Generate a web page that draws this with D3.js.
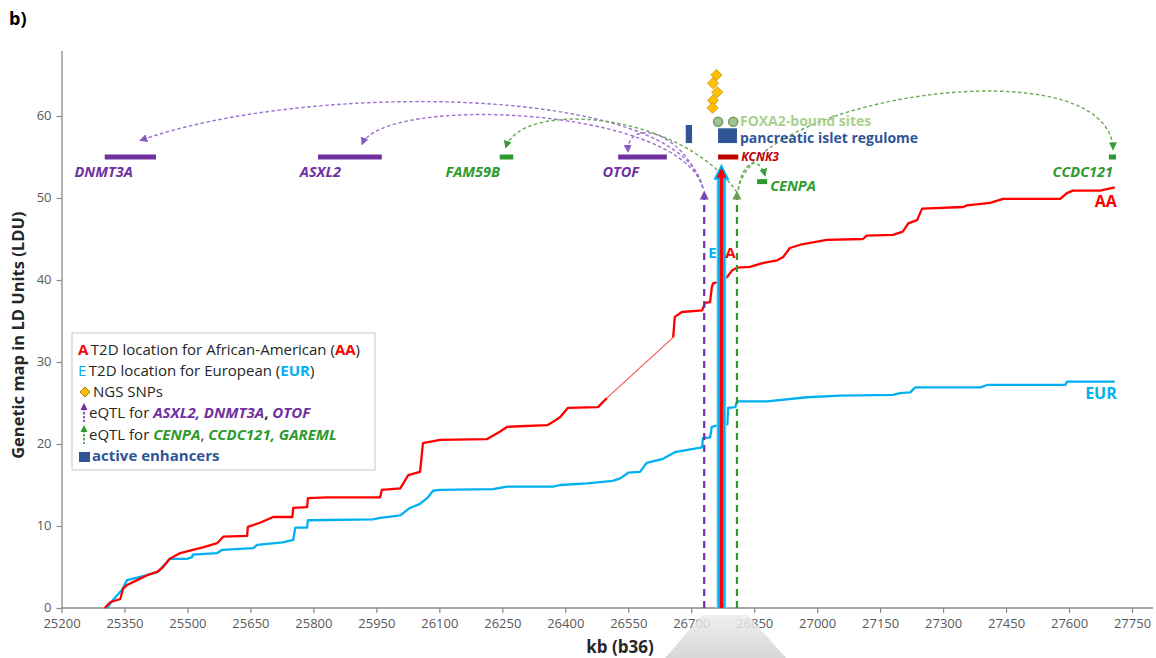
<!DOCTYPE html>
<html><head><meta charset="utf-8">
<script src="https://cdn.jsdelivr.net/npm/d3@7"></script>
<style>
html,body{margin:0;padding:0;background:#fff;}
svg{display:block;font-family:"Open Sans", Lato, sans-serif;}
</style></head><body>
<svg id="chart" width="1156" height="658"></svg>
<script>
// Cumulative LD map (LDU) along chromosome 2p, positions in kb (build 36)
const aaKb  = [25303,25316,25340,25347,25356,25380,25404,25428,25442,25458,25483,25513,25537,25571,25585,25642,25644,25673,25704,25750,25752,25785,25787,25833,25959,25963,26007,26026,26054,26061,26102,26214,26244,26262,26357,26371,26388,26406,26478,26499,26657,26661,26678,26726,26733,26745,26749,26752,26768,26786,26798,26809,26840,26872,26905,26919,26935,26960,27023,27109,27118,27181,27204,27217,27238,27250,27348,27357,27412,27443,27579,27595,27609,27674,27709];
const aaLdu = [0,0.7,1.1,2.4,2.8,3.4,4.0,4.4,5.0,6.0,6.7,7.1,7.4,7.9,8.7,8.8,9.9,10.4,11.1,11.1,12.2,12.3,13.4,13.5,13.5,14.4,14.6,16.2,16.6,20.1,20.5,20.6,21.5,22.1,22.3,22.7,23.3,24.4,24.5,25.6,33.0,35.5,36.1,36.3,37.2,37.3,39.1,39.6,39.8,40.4,41.2,41.5,41.6,42.1,42.4,42.8,43.9,44.3,44.9,45.0,45.4,45.5,45.9,46.9,47.3,48.7,48.9,49.1,49.4,49.9,49.9,50.6,50.9,50.9,51.3];
const eurKb  = [25308,25323,25344,25356,25380,25404,25430,25458,25499,25511,25513,25571,25583,25657,25666,25727,25752,25757,25785,25787,25942,25959,26007,26030,26054,26073,26085,26102,26228,26262,26371,26388,26452,26513,26531,26550,26578,26594,26633,26661,26726,26728,26745,26749,26764,26786,26788,26805,26809,26881,26976,27055,27181,27197,27222,27233,27389,27405,27591,27595,27709];
const eurLdu = [0,1.0,2.2,3.4,3.7,4.0,4.4,6.0,6.0,6.2,6.5,6.7,7.1,7.3,7.7,8.0,8.3,9.8,9.8,10.7,10.8,11.0,11.3,12.2,12.7,13.5,14.3,14.4,14.5,14.8,14.8,15.0,15.2,15.5,15.8,16.5,16.6,17.7,18.2,19.0,19.6,20.7,20.8,22.1,22.3,22.4,24.4,24.5,25.2,25.2,25.7,25.9,26.0,26.2,26.3,26.9,26.9,27.2,27.2,27.6,27.6];

const xTicks = [25200,25350,25500,25650,25800,25950,26100,26250,26400,26550,26700,26850,27000,27150,27300,27450,27600,27750];
const yTicks = [0,10,20,30,40,50,60];

// Genes in the region
const geneNames = ["DNMT3A","ASXL2","OTOF","FAM59B","KCNK3","CENPA","CCDC121"];
const geneStart = [25303,25811,26526,26244,26764,26857,27695];
const geneEnd   = [25425,25963,26642,26276,26812,26881,27712];
const geneLdu   = [55.0,55.0,55.0,55.0,55.0,52.0,55.0];
const geneGroup = ["purple","purple","purple","green","red","green","green"];

// NGS SNPs near the association peak
const snpKb  = [26760,26752,26762,26752,26751];
const snpLdu = [65.0,64.0,62.9,61.9,61.0];

// T2D association location (AA and EUR coincide)
const t2dKb = 26772, t2dTop = 53.7;

// eQTL lines and arcs to the target genes (start, control 1, control 2, end)
const eqtlKb = {purple: 26731, green: 26809};
const eqtlTop = 50.9;
const purpleArcs = [
  [[26728,51.2],[26673,64.1],[25768,64.1],[25387,57.0]],
  [[26728,51.2],[26673,61.3],[25959,62.6],[25916,56.5]],
  [[26728,51.2],[26673,58.9],[26543,59.5],[26550,55.6]]
];
const greenArcs = [
  [[26809,50.7],[26673,60.7],[26292,62.0],[26258,56.1]],
  [[26812,51.0],[26821,54.6],[26863,55.2],[26876,52.7]],
  [[26812,51.0],[26852,62.6],[27698,68.7],[27705,55.9]]
];

// Pancreatic islet regulome (active enhancers) and FOXA2-bound sites
const enhStart = [26687,26764], enhEnd = [26702,26809];
const enhLow = [56.7,56.7], enhHigh = [58.9,58.5];
const foxKb = [26764,26800], foxLdu = [59.3,59.3];

const C = {aa:"#ff0000", eur:"#00b0f0", purple:"#7030a0", purpleArc:"#9a6fcc",
           green:"#2e9a2e", greenArc:"#6aaa55", red:"#c00000", blue:"#2f5597",
           fox:"#a9d18e", snp:"#ffc000", axis:"#888888", tick:"#595959", text:"#262626"};

const svg = d3.select("#chart");
const x = d3.scaleLinear().domain([25200, 27750]).range([61.5, 1132]);
const y = d3.scaleLinear().domain([0, 68]).range([608, 50.4]);

// panel letter
svg.append("text").attr("x", 9).attr("y", 25).attr("font-size", 18).attr("font-weight", "bold")
  .attr("fill", "#000").text("b)");

// axes
const xAxis = svg.append("g").attr("transform", `translate(0,${y(0)})`)
  .call(d3.axisBottom(x).tickValues(xTicks).tickFormat(d3.format("d")).tickSize(5).tickSizeOuter(0).tickPadding(6));
const yAxis = svg.append("g").attr("transform", `translate(${x(25200)},0)`)
  .call(d3.axisLeft(y).tickValues(yTicks).tickSize(5).tickSizeOuter(0).tickPadding(5));
[xAxis, yAxis].forEach(g => {
  g.select(".domain").attr("stroke", C.axis).attr("stroke-width", 1.3);
  g.selectAll(".tick line").attr("stroke", C.axis).attr("stroke-width", 1.2);
  g.selectAll(".tick text").attr("fill", C.tick).attr("font-size", 13)
    .attr("font-family", "'Open Sans', sans-serif");
});
xAxis.select(".domain").attr("d", `M${x(25200)},0H${x(27750) + 21}`);
yAxis.selectAll(".tick text").attr("dy", "0.28em");

svg.append("text").attr("transform", `translate(24,${(y(0) + y(68)) / 2 + 6}) rotate(-90)`)
  .attr("text-anchor", "middle").attr("font-size", 16.5).attr("font-weight", "bold").attr("fill", C.text)
  .text("Genetic map in LD Units (LDU)");
svg.append("text").attr("x", 620).attr("y", 653).attr("text-anchor", "middle")
  .attr("font-size", 17).attr("font-weight", "bold").attr("fill", C.text).text("kb (b36)");

// LD map curves; sparse, steep stretches (big gap between markers) drawn thin
function drawMap(kb, ldu, color) {
  const pts = kb.map((k, i) => [x(k), y(ldu[i])]);
  let seg = [pts[0]];
  const segs = [];
  for (let i = 1; i < pts.length; i++) {
    if (kb[i] - kb[i - 1] > 100 && ldu[i] - ldu[i - 1] > 2) {
      segs.push({pts: seg, thin: false});
      segs.push({pts: [pts[i - 1], pts[i]], thin: true});
      seg = [pts[i]];
    } else seg.push(pts[i]);
  }
  segs.push({pts: seg, thin: false});
  const line = d3.line();
  segs.forEach(s => {
    svg.append("path").attr("d", line(s.pts)).attr("fill", "none").attr("stroke", color)
      .attr("stroke-width", s.thin ? 1.1 : 2.3).attr("stroke-opacity", s.thin ? 0.7 : 1)
      .attr("stroke-linejoin", "round");
  });
}
drawMap(eurKb, eurLdu, C.eur);
drawMap(aaKb, aaLdu, C.aa);

svg.append("text").attr("x", x(aaKb[aaKb.length - 1]) + 2).attr("y", y(aaLdu[aaLdu.length - 1]) + 20)
  .attr("text-anchor", "end").attr("font-size", 16).attr("font-weight", "bold").attr("fill", C.aa).text("AA");
svg.append("text").attr("x", x(eurKb[eurKb.length - 1]) + 2).attr("y", y(eurLdu[eurLdu.length - 1]) + 17)
  .attr("text-anchor", "end").attr("font-size", 16).attr("font-weight", "bold").attr("fill", C.eur).text("EUR");

// eQTL vertical dashed lines with arrowheads
function vArrow(kb, top, color, headColor) {
  const px = x(kb);
  svg.append("line").attr("x1", px).attr("x2", px).attr("y1", y(0)).attr("y2", y(top) + 7)
    .attr("stroke", color).attr("stroke-width", 2.2).attr("stroke-dasharray", "7,5");
  svg.append("path").attr("d", `M${px},${y(top)} L${px - 4.5},${y(top) + 9} L${px + 4.5},${y(top) + 9} Z`)
    .attr("fill", headColor);
}
vArrow(eqtlKb.purple, eqtlTop, C.purple, "#7a48b0");
vArrow(eqtlKb.green, eqtlTop, C.green, "#6f9a55");

// arcs from the eQTL to their genes
const defs = svg.append("defs");
function marker(id, color) {
  defs.append("marker").attr("id", id).attr("viewBox", "0 0 10 10").attr("refX", 9).attr("refY", 5)
    .attr("markerWidth", 8).attr("markerHeight", 8).attr("markerUnits", "userSpaceOnUse").attr("orient", "auto")
    .append("path").attr("d", "M0,0 L10,5 L0,10 Z").attr("fill", color);
}
marker("mP", "#8a58c4");
marker("mG", "#3a9a3a");
function arc(p, color, mid) {
  const q = p.map(d => [x(d[0]), y(d[1])]);
  svg.append("path")
    .attr("d", `M${q[0][0]},${q[0][1]} C${q[1][0]},${q[1][1]} ${q[2][0]},${q[2][1]} ${q[3][0]},${q[3][1]}`)
    .attr("fill", "none").attr("stroke", color).attr("stroke-width", 1.4)
    .attr("stroke-dasharray", "3.5,2.5").attr("marker-end", `url(#${mid})`);
}
purpleArcs.forEach(p => arc(p, C.purpleArc, "mP"));
greenArcs.forEach(p => arc(p, C.greenArc, "mG"));

// T2D location arrow (EUR outer, AA inner)
(function () {
  const px = x(t2dKb), top = y(t2dTop);
  svg.append("line").attr("x1", px).attr("x2", px).attr("y1", y(0)).attr("y2", top + 10)
    .attr("stroke", "#9fdcf6").attr("stroke-width", 10);
  svg.append("line").attr("x1", px).attr("x2", px).attr("y1", y(0)).attr("y2", top + 10)
    .attr("stroke", C.eur).attr("stroke-width", 8);
  svg.append("path").attr("d", `M${px},${top - 4} L${px - 8},${top + 12} L${px + 8},${top + 12} Z`).attr("fill", C.eur);
  svg.append("line").attr("x1", px).attr("x2", px).attr("y1", y(0)).attr("y2", top + 8)
    .attr("stroke", C.aa).attr("stroke-width", 3);
  svg.append("path").attr("d", `M${px},${top} L${px - 5},${top + 10} L${px + 5},${top + 10} Z`).attr("fill", C.aa);
  svg.append("text").attr("x", px - 9).attr("y", y(43.4) + 6).attr("text-anchor", "middle")
    .attr("font-size", 15).attr("font-weight", "bold").attr("fill", C.eur).text("E");
  svg.append("text").attr("x", px + 9).attr("y", y(43.4) + 6).attr("text-anchor", "middle")
    .attr("font-size", 15).attr("font-weight", "bold").attr("fill", C.aa).text("A");
})();

// genes: bar plus italic name (below the bar, right-aligned near its centre, or to its right)
const gColor = {purple: C.purple, green: C.green, red: C.red};
const labelLayout = {DNMT3A: ["below", 2.5], ASXL2: ["below", -9], OTOF: ["below", -3.5],
                     FAM59B: ["below", -6.5], CCDC121: ["below", 0.5], KCNK3: ["right", 0], CENPA: ["right", 0]};
geneNames.forEach((g, i) => {
  const x0 = x(geneStart[i]), x1 = x(geneEnd[i]), py = y(geneLdu[i]);
  const col = gColor[geneGroup[i]];
  svg.append("rect").attr("x", x0).attr("y", py - 2.5).attr("width", x1 - x0).attr("height", 5).attr("fill", col);
  const t = svg.append("text").attr("font-weight", "bold").attr("font-style", "italic").attr("fill", col).text(g);
  const [side, dx] = labelLayout[g];
  if (side === "below") {
    t.attr("x", (x0 + x1) / 2 + dx).attr("y", py + 20).attr("text-anchor", "end").attr("font-size", 14.5);
  } else if (geneGroup[i] === "red") {
    t.attr("x", x1 + 3).attr("y", py + 4).attr("font-size", 12);
  } else {
    t.attr("x", x1 + 3).attr("y", py + 9).attr("font-size", 14.5);
  }
});

// regulome: FOXA2 sites and enhancers
foxKb.forEach((k, i) => {
  svg.append("circle").attr("cx", x(k)).attr("cy", y(foxLdu[i])).attr("r", 4.5)
    .attr("fill", "#a3c293").attr("stroke", "#6f9f5a").attr("stroke-width", 1.5);
});
enhStart.forEach((s, i) => {
  svg.append("rect").attr("x", x(s)).attr("y", y(enhHigh[i])).attr("width", x(enhEnd[i]) - x(s))
    .attr("height", y(enhLow[i]) - y(enhHigh[i])).attr("fill", C.blue);
});
svg.append("text").attr("x", x(enhEnd[1]) + 3).attr("y", y(foxLdu[0]) + 4).attr("font-size", 14)
  .attr("font-weight", "bold").attr("fill", C.fox).text("FOXA2-bound sites");
svg.append("text").attr("x", x(enhEnd[1]) + 3).attr("y", y(enhLow[1]) - 0.5).attr("font-size", 14)
  .attr("font-weight", "bold").attr("fill", C.blue).text("pancreatic islet regulome");

// NGS SNPs
snpKb.forEach((k, i) => {
  svg.append("path").attr("transform", `translate(${x(k)},${y(snpLdu[i])}) rotate(45)`)
    .attr("d", d3.symbol(d3.symbolSquare, 62)()).attr("fill", C.snp).attr("stroke", "#c8960c").attr("stroke-width", 0.8);
});

// legend
const lg = svg.append("g");
lg.append("rect").attr("x", 72).attr("y", 333).attr("width", 303).attr("height", 137)
  .attr("fill", "#fff").attr("stroke", "#c8c8c8").attr("stroke-width", 1);
const K = "#262626";
const rows = [
  {y: 355, x: 78, parts: [["A", C.aa, "bold", "normal"], ["\u2009T2D location for African-American (", K, "normal", "normal"], ["AA", C.aa, "bold", "normal"], [")", K, "normal", "normal"]]},
  {y: 376, x: 78, parts: [["E", C.eur, "normal", "normal"], ["\u2009T2D location for European (", K, "normal", "normal"], ["EUR", C.eur, "bold", "normal"], [")", K, "normal", "normal"]]},
  {y: 397, x: 93, parts: [["NGS SNPs", K, "normal", "normal"]]},
  {y: 418, x: 89, parts: [["eQTL for ", K, "normal", "normal"], ["ASXL2, DNMT3A", C.purple, "bold", "italic"], [",", K, "bold", "normal"], [" OTOF", C.purple, "bold", "italic"]]},
  {y: 440, x: 89, parts: [["eQTL for ", K, "normal", "normal"], ["CENPA", C.green, "bold", "italic"], [", ", K, "normal", "normal"], ["CCDC121, GAREML", C.green, "bold", "italic"]]},
  {y: 461, x: 92, parts: [["active enhancers", C.blue, "bold", "normal"]]}
];
rows.forEach(r => {
  const t = lg.append("text").attr("x", r.x).attr("y", r.y).attr("font-size", 15);
  r.parts.forEach(p => t.append("tspan").attr("fill", p[1]).attr("font-weight", p[2]).attr("font-style", p[3]).text(p[0]));
});
lg.append("path").attr("transform", "translate(85,392) rotate(45)")
  .attr("d", d3.symbol(d3.symbolSquare, 50)()).attr("fill", C.snp).attr("stroke", "#a07800").attr("stroke-width", 0.9);
[[C.purple, 413], [C.green, 435]].forEach(([c, cy]) => {
  lg.append("line").attr("x1", 84).attr("x2", 84).attr("y1", cy - 5).attr("y2", cy + 9)
    .attr("stroke", c).attr("stroke-width", 1.6).attr("stroke-dasharray", "2.5,1.5");
  lg.append("path").attr("d", `M84,${cy - 10} L80.5,${cy - 3} L87.5,${cy - 3} Z`).attr("fill", c);
});
lg.append("rect").attr("x", 79).attr("y", 452).attr("width", 11).attr("height", 10).attr("fill", C.blue);

// zoom callout below the axis
const grad = defs.append("linearGradient").attr("id", "callout").attr("x1", 0).attr("y1", 0).attr("x2", 0).attr("y2", 1);
grad.append("stop").attr("offset", "0%").attr("stop-color", "#ececec");
grad.append("stop").attr("offset", "100%").attr("stop-color", "#d0d0d0");
svg.append("path")
  .attr("d", `M${x(26726)},615 L${x(26835)},615 L${x(26926)},658 L${x(26638)},658 Z`)
  .attr("fill", "url(#callout)").attr("opacity", 0.85);
</script>
</body></html>
